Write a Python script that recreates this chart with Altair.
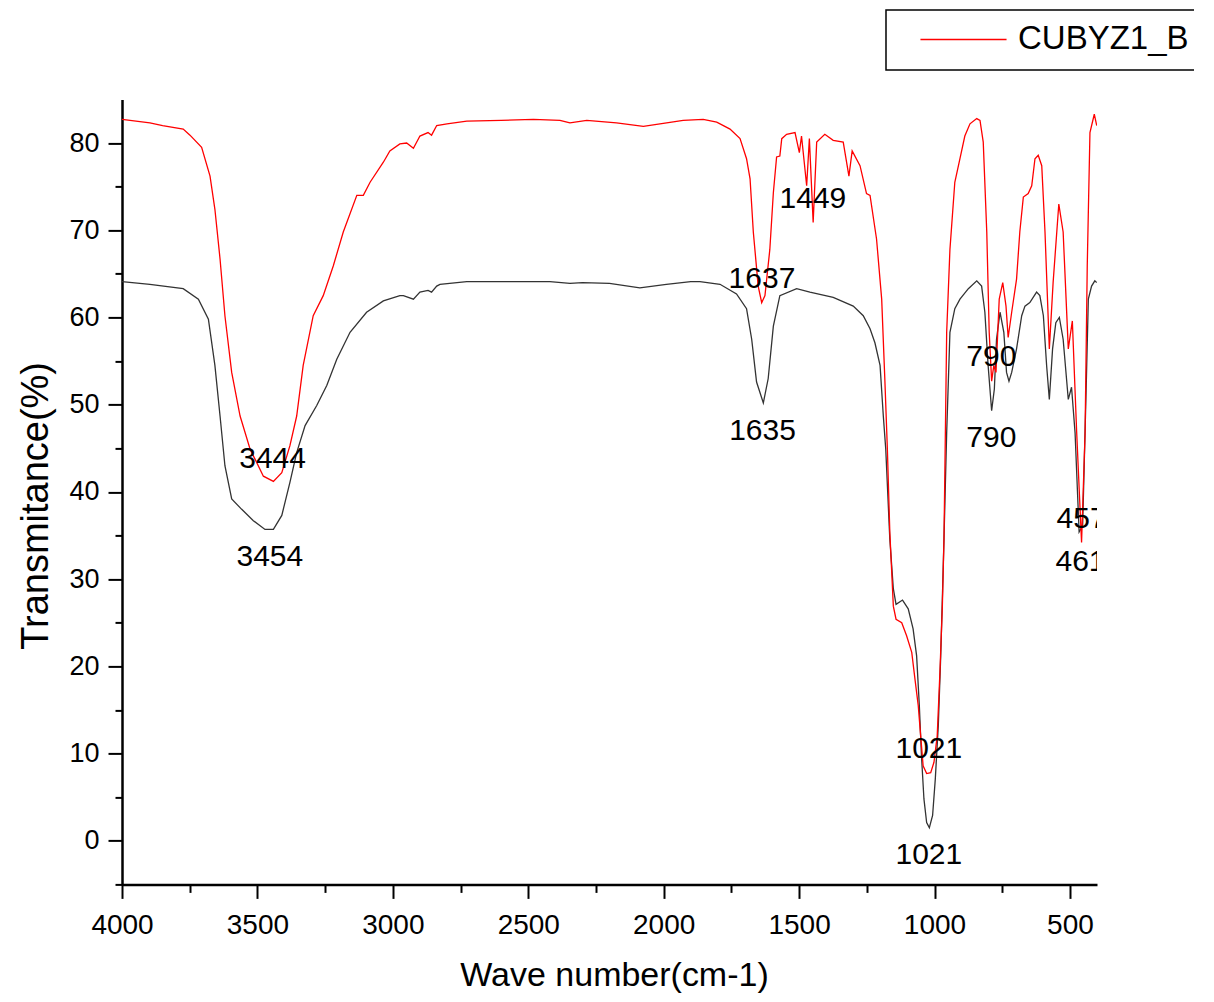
import altair as alt
import pandas as pd

FONT = "Liberation Sans"
legend_label = "CUBYZ1_B"

red_wn = [4000, 3897, 3850, 3774, 3749, 3706, 3675, 3657, 3638, 3620, 3595, 3564, 3527, 3478, 3441,
          3410, 3380, 3355, 3331, 3294, 3257, 3220, 3183, 3133, 3109, 3084, 3035, 3011, 2974, 2949,
          2924, 2900, 2870, 2857, 2838, 2800, 2727, 2600, 2481, 2383, 2346, 2284, 2174, 2075, 1989,
          1928, 1854, 1804, 1755, 1718, 1694, 1681, 1669, 1651, 1638, 1626, 1608, 1595, 1583, 1571,
          1564, 1546, 1515, 1499, 1491, 1472, 1462, 1448, 1435, 1405, 1374, 1337, 1316, 1304, 1275,
          1251, 1238, 1214, 1195, 1183, 1174, 1165, 1152, 1142, 1121, 1103, 1084, 1072, 1060, 1051,
          1042, 1029, 1014, 1002, 990, 980, 971, 965, 955, 943, 925, 906, 888, 869, 844,
          832, 820, 807, 798, 789, 781, 773, 761, 748, 736, 728, 715, 697, 685, 672,
          654, 641, 629, 617, 604, 592, 576, 562, 541, 525, 506, 491, 475, 457, 444,
          436, 426, 410, 401]
red_t = [82.7, 82.3, 82.0, 81.6, 80.9, 79.5, 76.2, 72.4, 66.7, 60.2, 53.7, 48.7, 44.9, 41.8, 41.2,
         42.2, 45.3, 48.7, 54.5, 60.2, 62.5, 65.9, 69.8, 74.0, 74.0, 75.5, 77.8, 79.1, 79.9, 80.0,
         79.4, 80.8, 81.2, 80.9, 82.0, 82.2, 82.5, 82.6, 82.7, 82.6, 82.3, 82.6, 82.3, 81.9, 82.3,
         82.6, 82.7, 82.4, 81.6, 80.5, 78.2, 75.9, 69.8, 63.6, 61.7, 62.5, 67.8, 74.3, 78.4, 78.5,
         80.5, 81.0, 81.2, 78.9, 80.8, 75.1, 80.5, 70.9, 80.1, 81.0, 80.3, 80.1, 76.2, 79.1, 77.4,
         74.2, 74.0, 69.0, 62.1, 52.6, 44.9, 35.4, 26.9, 25.4, 25.0, 23.5, 21.6, 18.5, 15.5, 12.0,
         8.6, 7.7, 7.8, 9.0, 12.0, 19.3, 26.9, 34.6, 58.3, 67.8, 75.5, 78.2, 80.8, 82.2, 82.8,
         82.6, 80.1, 69.8, 58.3, 52.7, 54.5, 53.7, 62.1, 64.0, 61.3, 57.7, 60.6, 64.4, 69.8, 73.8,
         74.2, 75.1, 78.2, 78.6, 77.4, 69.8, 56.4, 64.0, 73.0, 69.8, 56.4, 59.6, 46.8, 34.2, 46.8,
         65.9, 81.2, 83.3, 82.0]

black_wn = [4000, 3897, 3774, 3718, 3681, 3657, 3638, 3620, 3595, 3558, 3515, 3472, 3441, 3410, 3380,
            3355, 3324, 3281, 3244, 3207, 3158, 3097, 3035, 2974, 2961, 2924, 2900, 2870, 2857, 2838,
            2826, 2727, 2420, 2346, 2300, 2200, 2088, 1990, 1900, 1866, 1792, 1731, 1694, 1675, 1657,
            1632, 1614, 1595, 1571, 1509, 1460, 1374, 1300, 1263, 1238, 1220, 1201, 1189, 1180, 1165,
            1152, 1142, 1118, 1097, 1079, 1066, 1056, 1048, 1039, 1029, 1019, 1007, 997, 986, 977,
            970, 965, 955, 943, 925, 906, 875, 844, 826, 814, 802, 789, 779, 771, 758,
            744, 734, 725, 715, 697, 678, 666, 648, 623, 611, 598, 586, 576, 564, 552,
            539, 525, 506, 494, 481, 466, 453, 441, 432, 420, 408, 401]
black_t = [64.1, 63.8, 63.3, 62.1, 59.8, 54.5, 48.7, 43.0, 39.2, 38.0, 36.7, 35.7, 35.7, 37.3, 41.1,
           44.5, 47.6, 49.9, 52.2, 55.2, 58.3, 60.6, 61.9, 62.5, 62.5, 62.1, 62.9, 63.1, 62.9, 63.6,
           63.8, 64.1, 64.1, 63.9, 64.0, 63.9, 63.4, 63.8, 64.1, 64.1, 63.8, 62.7, 61.0, 57.5, 52.6,
           50.2, 53.0, 59.0, 62.5, 63.3, 62.9, 62.3, 61.3, 60.2, 58.7, 57.1, 54.5, 48.7, 44.9, 34.6,
           28.9, 27.1, 27.6, 26.6, 24.3, 21.2, 15.5, 9.7, 4.8, 2.1, 1.5, 2.9, 7.1, 13.2, 21.2,
           28.9, 34.6, 46.8, 58.3, 61.0, 62.1, 63.3, 64.2, 63.6, 60.6, 54.5, 49.3, 51.8, 57.5, 60.6,
           58.3, 53.7, 52.7, 53.7, 56.4, 60.2, 61.3, 61.7, 62.9, 62.5, 60.2, 54.5, 50.6, 56.4, 59.4,
           60.0, 57.5, 50.6, 52.0, 46.8, 35.4, 36.1, 50.6, 62.1, 63.6, 64.2, 64.0]

ann_label = ["3444", "3454", "1637", "1449", "1635", "1021", "1021", "790", "790", "457", "461"]
ann_wn = [3444, 3454, 1637, 1449, 1635, 1021, 1021, 790, 790, 457, 461]
ann_t = [43.8, 32.5, 64.4, 73.6, 47.0, 10.5, -1.6, 55.5, 46.2, 36.9, 32.0]

x_ticks = [4000, 3750, 3500, 3250, 3000, 2750, 2500, 2250, 2000, 1750, 1500, 1250, 1000, 750, 500]
y_ticks = [-5, 0, 5, 10, 15, 20, 25, 30, 35, 40, 45, 50, 55, 60, 65, 70, 75, 80]

red_df = pd.DataFrame({"wn": red_wn, "t": red_t, "series": legend_label})
black_df = pd.DataFrame({"wn": black_wn, "t": black_t})
ann_df = pd.DataFrame({"wn": ann_wn, "t": ann_t, "label": ann_label})

x_scale = alt.Scale(domain=[4000, 400], nice=False, zero=False)
y_scale = alt.Scale(domain=[-5, 85], nice=False, zero=False)

x_axis = alt.Axis(
    values=x_ticks, format="d",
    labelExpr="datum.value % 500 === 0 ? datum.label : ''",
    tickSize={"condition": {"test": "datum.value % 500 === 0", "value": 14}, "value": 8},
    labelPadding=13, labelFontSize=28, labelFlush=False, labelOverlap=False,
    title="Wave number(cm-1)", titleFontSize=34, titleX=492, titleY=101,
    titleBaseline="alphabetic", grid=False,
)
y_axis = alt.Axis(
    values=y_ticks, format="d",
    labelExpr="datum.value % 10 === 0 ? datum.label : ''",
    tickSize={"condition": {"test": "datum.value % 10 === 0", "value": 14}, "value": 7},
    labelPadding=9, labelFontSize=27, labelFlush=False, labelOverlap=False,
    title="Transmitance(%)", titleFontSize=38, titleX=-75, titleY=406,
    titleBaseline="alphabetic", grid=False,
)

black_line = alt.Chart(black_df).mark_line(strokeWidth=1.3, color="#333333", clip=True).encode(
    x=alt.X("wn:Q", scale=x_scale, axis=x_axis),
    y=alt.Y("t:Q", scale=y_scale, axis=y_axis),
)

red_line = alt.Chart(red_df).mark_line(strokeWidth=1.3, clip=True).encode(
    x=alt.X("wn:Q", scale=x_scale, axis=x_axis),
    y=alt.Y("t:Q", scale=y_scale, axis=y_axis),
    color=alt.Color(
        "series:N",
        scale=alt.Scale(domain=[legend_label], range=["#ff0000"]),
        legend=alt.Legend(
            title=None, orient="none", legendX=764, legendY=-89.4,
            symbolType="M-4.1,0H4.1", symbolSize=441, symbolStrokeWidth=1.5,
            symbolOffset=48, labelOffset=38, labelLimit=400,
            labelFontSize=33, labelFont=FONT, labelColor="black",
            padding=13, strokeColor="black",
        ),
    ),
)

labels = alt.Chart(ann_df).mark_text(
    font=FONT, fontSize=30, color="black", align="center", baseline="middle", clip=True
).encode(
    x=alt.X("wn:Q", scale=x_scale, axis=x_axis),
    y=alt.Y("t:Q", scale=y_scale, axis=y_axis),
    text="label:N",
)

chart = alt.layer(black_line, red_line, labels).properties(
    width=975, height=785,
    autosize=alt.AutoSizeParams(type="none"),
    padding={"left": 114, "top": 91.4, "right": 97, "bottom": 110},
).configure_view(stroke=None).configure_axis(
    domainColor="black", domainWidth=2.5, tickColor="black", tickWidth=2,
    labelColor="black", titleColor="black", labelFont=FONT, titleFont=FONT,
    titleFontWeight="normal",
).configure_legend(strokeWidth=1.5)

chart.save("out.html", embed_options={"renderer": "svg", "actions": False})
